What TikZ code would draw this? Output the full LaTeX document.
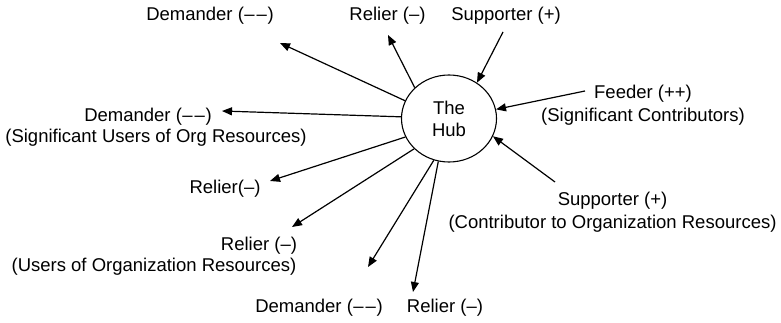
\documentclass[tikz,border=0pt]{standalone}
\usepackage{fontspec}
\setmainfont{Liberation Sans}
\usetikzlibrary{shapes.geometric,arrows.meta}

% two en dashes with a small gap between them
\newcommand{\twodash}{\kern0.5pt–\kern2pt–\kern0.5pt}

\tikzset{
  lbl/.style={align=center,inner sep=0pt,font=\fontsize{18.5}{23}\selectfont},
  hubnode/.style={ellipse,draw,line width=1.1pt,minimum width=95pt,minimum height=87pt,
    inner sep=0pt,align=center,font=\fontsize{18.5}{22}\selectfont},
  link/.style={line width=1.2pt,-{Triangle[length=10pt,width=8pt]}}
}

\begin{document}
\begin{tikzpicture}[x=1pt,y=-1pt]
  \useasboundingbox (0,0) rectangle (781,323);

  % the hub in the middle
  \node[hubnode] (hub) at (449,118.5) {The\\Hub};

  % labels
  \node[lbl] (dem1) at (210,16) {Demander (\twodash)};
  \node[lbl] (rel1) at (387.5,16) {Relier (–)};
  \node[lbl] (sup1) at (506,16) {Supporter (+)};
  \node[lbl] (feed) at (643,105) {Feeder (++)\\(Significant Contributors)};
  \node[lbl] (dem2) at (148,117) {Demander (\twodash)};
  \node[lbl] (dem2b) at (156,138) {(Significant Users of Org Resources)};
  \node[lbl] (rel2) at (225,189) {Relier(–)};
  \node[lbl] (rel3) at (259,246) {Relier (–)};
  \node[lbl] (rel3b) at (154,267) {(Users of Organization Resources)};
  \node[lbl] (dem3) at (319,308) {Demander (\twodash)};
  \node[lbl] (rel4) at (445,308) {Relier (–)};
  \node[lbl] (sup2) at (612.5,212) {Supporter (+)\\(Contributor to Organization Resources)};

  % free ends of the connectors
  \coordinate (t1) at (280,43);
  \coordinate (t2) at (388,35);
  \coordinate (s3) at (503,32);
  \coordinate (s4) at (585,91);
  \coordinate (t5) at (222,111);
  \coordinate (t6) at (270,181);
  \coordinate (t7) at (292,227);
  \coordinate (t8) at (368,267);
  \coordinate (t9) at (413,292);
  \coordinate (s10) at (555,182);

  % outgoing connectors
  \draw[link] (hub.158) -- (t1);
  \draw[link] (hub.138) -- (t2);
  \draw[link] (hub.178) -- (t5);
  \draw[link] (hub.203) -- (t6);
  \draw[link] (hub.221) -- (t7);
  \draw[link] (hub.250) -- (t8);
  \draw[link] (hub.256) -- (t9);

  % incoming connectors
  \draw[link] (s3) -- (hub.52);
  \draw[link] (s4) -- (hub.11);
  \draw[link] (s10) -- (hub.338);
\end{tikzpicture}
\end{document}
